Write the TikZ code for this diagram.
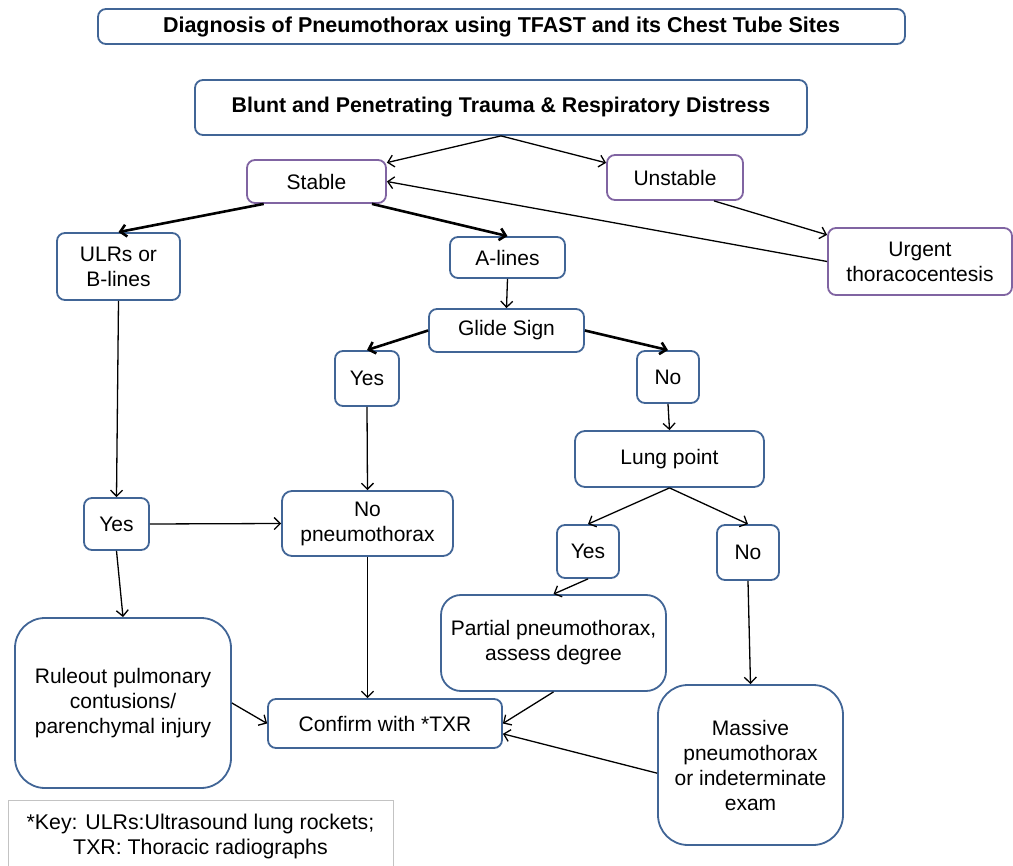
\documentclass[tikz,border=0pt]{standalone}
\usepackage{fontspec}
\setmainfont{Liberation Sans}
\usetikzlibrary{arrows.meta}
\definecolor{boxblue}{RGB}{65,101,150}
\definecolor{boxpurple}{RGB}{128,100,162}
\definecolor{keygray}{RGB}{195,195,195}
\begin{document}
\begin{tikzpicture}[x=1pt,y=-1pt,
    box/.style={draw=boxblue, line width=1.8pt, rounded corners=8pt, align=center,
      inner sep=0pt, font=\fontsize{21}{25}\selectfont},
    pbox/.style={box, draw=boxpurple},
    headbox/.style={box, font=\bfseries\fontsize{21.3}{25}\selectfont},
    arr/.style={-{Straight Barb[length=6pt,width=12pt]}, line width=1.3pt},
    boldarr/.style={arr, line width=2.6pt}]
  \useasboundingbox (0,0) rectangle (1013,866);
  % Headings
  \node[headbox, font=\bfseries\fontsize{21.5}{25}\selectfont,
    minimum width=807pt, minimum height=35pt] (title) at (501.5,26.5)
    {Diagnosis of Pneumothorax using TFAST and its Chest Tube Sites};
  \node[headbox, minimum width=612pt, minimum height=55pt] (trauma) at (501,107.5)
    {Blunt and Penetrating Trauma \& Respiratory Distress};
  % Stable / unstable
  \node[pbox, minimum width=139pt, minimum height=43pt] (stable) at (316.5,181.5) {Stable};
  \node[pbox, minimum width=136pt, minimum height=45pt] (unstable) at (675,177.5) {Unstable};
  \node[pbox, minimum width=184pt, minimum height=67pt] (urgent) at (920,261.5)
    {Urgent\\thoracocentesis};
  % Lung findings
  \node[box, minimum width=123pt, minimum height=67pt] (ulrs) at (118.5,266.5) {ULRs or\\B-lines};
  \node[box, minimum width=115pt, minimum height=41pt] (alines) at (507.5,257.5) {A-lines};
  \node[box, minimum width=155pt, minimum height=43pt] (glide) at (506.5,330.5) {Glide Sign};
  \node[box, minimum width=64pt, minimum height=55pt] (glideyes) at (367,378.5) {Yes};
  \node[box, minimum width=62pt, minimum height=52pt] (glideno) at (668,377) {No};
  \node[box, minimum width=189pt, minimum height=56pt, rounded corners=10pt] (lungpt) at (669.5,459)
    {Lung point};
  \node[box, minimum width=65pt, minimum height=52pt] (ulrsyes) at (116.5,524) {Yes};
  \node[box, minimum width=171pt, minimum height=65pt, rounded corners=10pt] (nopneumo) at (367.5,523.5)
    {No\\pneumothorax};
  \node[box, minimum width=62pt, minimum height=53pt] (lungyes) at (588,551.5) {Yes};
  \node[box, minimum width=62pt, minimum height=55pt] (lungno) at (748,552.5) {No};
  % Outcomes
  \node[box, minimum width=216pt, minimum height=170pt, rounded corners=30pt] (ruleout) at (123,703)
    {Ruleout pulmonary\\contusions/\\parenchymal injury};
  \node[box, minimum width=225pt, minimum height=96pt, rounded corners=20pt] (partial) at (553.5,643)
    {Partial pneumothorax,\\assess degree};
  \node[box, minimum width=234pt, minimum height=49pt] (confirm) at (385,723.5) {Confirm with *TXR};
  \node[box, minimum width=185pt, minimum height=160pt, rounded corners=30pt] (massive) at (750.5,765)
    {Massive\\pneumothorax\\or indeterminate\\exam};
  % Key
  \node[draw=keygray, line width=1pt, minimum width=385pt, minimum height=72pt, align=center,
    font=\fontsize{21.3}{25}\selectfont, anchor=north] (key) at (200.5,800)
    {*Key: ULRs:Ultrasound lung rockets;\\TXR: Thoracic radiographs};
  % Arrows
  \draw[arr] (trauma.south) -- (stable.15);
  \draw[arr] (trauma.south) -- (unstable.168);
  \draw[arr] (urgent.west) -- (stable.east);
  \draw[arr] (unstable.-31) -- (urgent.164);
  \draw[boldarr] (stable.203) -- (ulrs.north);
  \draw[boldarr] (stable.-22) -- (alines.north);
  \draw[arr] (alines.south) -- (glide.north);
  \draw[boldarr] (glide.west) -- (glideyes.north);
  \draw[boldarr] (glide.east) -- (glideno.north);
  \draw[arr] (glideyes.south) -- (nopneumo.north);
  \draw[arr] (glideno.south) -- (lungpt.north);
  \draw[arr] (lungpt.south) -- (lungyes.north);
  \draw[arr] (lungpt.south) -- (lungno.north);
  \draw[arr] (ulrs.south) -- (ulrsyes.north);
  \draw[arr] (ulrsyes.east) -- (nopneumo.west);
  \draw[arr] (ulrsyes.south) -- (ruleout.north);
  \draw[arr] (lungyes.south) -- (partial.north);
  \draw[arr] (lungno.south) -- (massive.north);
  \draw[arr] (nopneumo.south) -- (nopneumo.south |- confirm.north);
  \draw[arr] (ruleout.east) -- (confirm.west);
  \draw[arr] (partial.south) -- (confirm.east);
  \draw[arr] (massive.185) -- (confirm.-5);
\end{tikzpicture}
\end{document}
